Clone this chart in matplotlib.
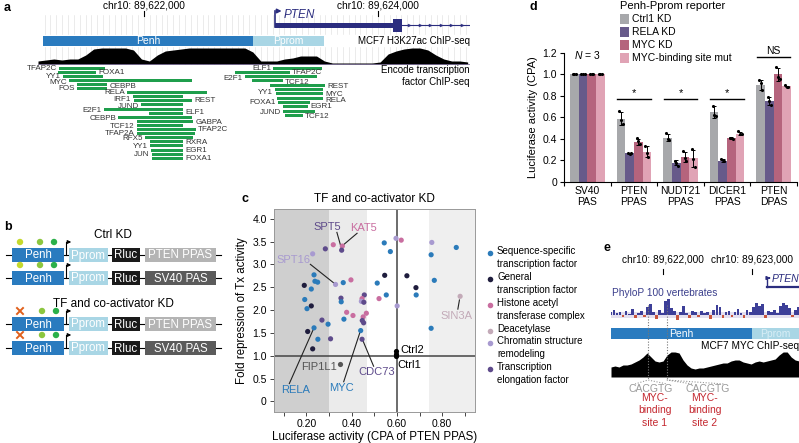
import numpy as np
import matplotlib
matplotlib.use("Agg")
import matplotlib.pyplot as plt
from matplotlib.patches import Rectangle, Circle

plt.rcParams['font.family'] = ['Liberation Sans', 'DejaVu Sans']
plt.rcParams['mathtext.fontset'] = 'custom'
plt.rcParams['mathtext.rm'] = 'Liberation Sans'
plt.rcParams['mathtext.it'] = 'Liberation Sans:italic'

# ======================= DATA =======================
# ---- panel a : genome browser view ----
CHR_TICKS_A = [89622000, 89624000]
PENH_A = (89621137, 89622932)
PPROM_A = (89622932, 89623538)
PTEN_TSS_A = 89623120
PTEN_EXON_A = (89624128, 89624205)
H3K27AC_START = 89621094
H3K27AC_BIN = 68
H3K27AC = [3, 4, 5, 4, 5, 5, 9, 15, 16, 16, 16, 16, 14, 5, 3, 9, 13, 14, 15,
           16, 16, 16, 16, 16, 16, 16, 16, 12, 3, 3, 3, 5, 6, 8, 8, 8, 3, 1,
           1, 1, 1, 1, 1, 2, 10, 13, 15, 16, 16, 14, 9, 5, 3, 3, 2]
TF_LEFT = [("TFAP2C", 89621274, 89621667, "L"), ("FOXA1", 89621265, 89621590, "R"),
           ("YY1", 89621308, 89621650, "L"), ("MYC", 89621359, 89622410, "L"),
           ("CEBPB", 89621427, 89621684, "R"), ("FOS", 89621427, 89621684, "L"),
           ("RELA", 89621855, 89622538, "L"), ("IRF1", 89621906, 89622333, "L"),
           ("REST", 89621915, 89622410, "R"), ("JUND", 89621974, 89622333, "L"),
           ("E2F1", 89621658, 89622333, "L"), ("ELF1", 89622043, 89622333, "R"),
           ("CEBPB", 89621778, 89622410, "L"), ("GABPA", 89621940, 89622419, "R"),
           ("TCF12", 89621940, 89622333, "L"), ("TFAP2C", 89621940, 89622444, "R"),
           ("TFAP2A", 89621940, 89622436, "L"), ("RFX5", 89622009, 89622419, "L"),
           ("RXRA", 89622051, 89622333, "R"), ("YY1", 89622051, 89622333, "L"),
           ("EGR1", 89622060, 89622333, "R"), ("JUN", 89622068, 89622333, "L"),
           ("FOXA1", 89622068, 89622333, "R")]
TF_RIGHT = [("ELF1", 89623103, 89623521, "L"), ("TFAP2C", 89622778, 89623248, "R"),
            ("E2F1", 89622863, 89623479, "L"), ("TCF12", 89622923, 89623188, "R"),
            ("REST", 89623077, 89623547, "R"), ("YY1", 89623120, 89623530, "L"),
            ("MYC", 89623128, 89623530, "R"), ("RELA", 89623137, 89623530, "R"),
            ("FOXA1", 89623145, 89623419, "L"), ("EGR1", 89623188, 89623402, "R"),
            ("JUND", 89623188, 89623462, "L"), ("TCF12", 89623205, 89623359, "R")]

# ---- panel b : reporter constructs ----
B_GROUPS = ["Ctrl KD", "TF and co-activator KD"]
B_PAS = ["PTEN PPAS", "SV40 PAS"]
B_PARTS = ["Penh", "Pprom", "Rluc"]

# ---- panel c : scatter ----
C_CATS = ["Sequence-specific\ntranscription factor", "General\ntranscription factor",
          "Histone acetyl\ntransferase complex", "Deacetylase",
          "Chromatin structure\nremodeling", "Transcription\nelongation factor"]
C_X = [0.596, 0.619, 0.754, 0.862, 0.544, 0.571, 0.751, 0.319, 0.359, 0.284,
       0.356, 0.228, 0.234, 0.238, 0.250, 0.191, 0.222, 0.193, 0.222, 0.203,
       0.329, 0.363, 0.397, 0.546, 0.644, 0.765, 0.513, 0.684, 0.685, 0.553,
       0.521, 0.601, 0.879, 0.353, 0.354, 0.456, 0.446, 0.443, 0.454, 0.378,
       0.406, 0.465, 0.451, 0.366, 0.447, 0.453, 0.269, 0.296, 0.234, 0.206,
       0.440, 0.251, 0.307, 0.446, 0.228, 0.751]
C_Y = [3.57, 3.53, 3.48, 3.37, 3.47, 3.28, 3.21, 3.43, 3.40, 3.34,
       3.31, 3.23, 2.77, 2.63, 2.61, 2.54, 2.46, 2.23, 2.09, 2.03,
       2.56, 2.60, 2.66, 2.76, 2.75, 2.65, 2.59, 2.49, 2.33, 2.33,
       2.25, 2.09, 2.30, 2.26, 2.18, 2.33, 2.25, 2.19, 2.17, 1.95,
       1.88, 1.93, 1.85, 1.80, 1.77, 1.72, 1.78, 1.69, 1.61, 1.53,
       1.55, 1.36, 1.37, 1.36, 1.15, 1.60]
C_CAT = [4, 2, 4, 0, 0, 0, 0, 2, 2, 5,
         5, 4, 0, 0, 0, 1, 0, 0, 1, 0,
         4, 0, 2, 1, 1, 0, 0, 1, 0, 0,
         2, 4, 3, 5, 0, 5, 2, 4, 5, 2,
         2, 2, 2, 0, 5, 5, 5, 0, 0, 1,
         0, 0, 5, 5, 1, 0]
FIP1L1 = (0.347, 0.82)
CTRL_X = [0.597, 0.597, 0.597]
CTRL_Y = [1.11, 1.04, 1.00]
C_SHADE = [(0.056, 0.30, '#cfcfcf'), (0.30, 0.47, '#ebebeb'), (0.74, 0.946, '#efefef')]

# ---- panel d : bar chart ----
D_GROUPS = ["SV40\nPAS", "PTEN\nPPAS", "NUDT21\nPPAS", "DICER1\nPPAS", "PTEN\nDPAS"]
D_CONDS = ["Ctrl1 KD", "RELA KD", "MYC KD", "MYC-binding site mut"]
D_BARS = {
    "Ctrl1 KD": [1.0, 0.585, 0.41, 0.645, 0.90],
    "RELA KD": [1.0, 0.266, 0.178, 0.196, 0.748],
    "MYC KD": [1.0, 0.37, 0.232, 0.407, 1.0],
    "MYC-binding site mut": [1.0, 0.278, 0.218, 0.447, 0.886],
}
D_REPS = {
    "Ctrl1 KD": [[1, 1, 1], [0.654, 0.571, 0.534], [0.453, 0.40, 0.385],
                 [0.707, 0.617, 0.608], [0.947, 0.917, 0.85]],
    "RELA KD": [[1, 1, 1], [0.27, 0.26, 0.265], [0.19, 0.17, 0.15],
                [0.215, 0.20, 0.19], [0.787, 0.747, 0.71]],
    "MYC KD": [[1, 1, 1], [0.407, 0.376, 0.354], [0.283, 0.225, 0.19],
               [0.41, 0.405, 0.40], [1.065, 0.97, 0.957]],
    "MYC-binding site mut": [[1, 1, 1], [0.33, 0.27, 0.23], [0.30, 0.215, 0.14],
                             [0.47, 0.445, 0.44], [0.895, 0.883, 0.88]],
}
D_SIG = [(1, "*"), (2, "*"), (3, "*"), (4, "NS")]

# ---- panel e : MYC binding sites ----
XLIM_E = (89621412, 89623525)
CHR_TICKS_E = [89622000, 89623000]
PENH_E = (89621412, 89623000)
PPROM_E = (89623000, 89623525)
PTEN_TSS_E = 89623165
PHYLOP_START = 89621412
PHYLOP_BIN = 34
PHYLOP = [3, 5, 2, 3, -2, 4, 1, 6, -3, 2, 4, -2, 8, 11, 3, -4, 5, 2, 14, 16,
          7, 4, -5, 3, 9, 2, -3, 4, 3, -2, 4, 2, 3, -4, 5, 10, 8, -3, 3, 4,
          -2, 3, 6, 2, -3, 5, 3, 8, 12, 9, 11, -3, 4, 3, 5, 2, 9, 12, 10, 7,
          -2, 5, 8]
MYC_START = 89621412
MYC_BIN = 45
MYC_CHIP = [10, 11, 10, 12, 12, 13, 15, 17, 20, 24, 20, 16, 15, 16, 22, 25, 25, 24,
            17, 12, 9, 8, 9, 9, 10, 11, 12, 13, 14, 14, 16, 17, 17, 15, 14, 13,
            15, 16, 15, 16, 17, 18, 22, 25, 25, 20, 17, 16]
MYC_SITES = [89621828, 89622042]
MOTIF_POS = [89621862, 89622502]
SITE_LABEL_POS = [89621906, 89622468]
SITE_LABELS = ["MYC-\nbinding\nsite 1", "MYC-\nbinding\nsite 2"]

# ======================= LAYOUT / STYLE =======================
# vertical placement (px) of the TF-track labels
LEFT_LABEL_Y = [68, 73, 76.5, 82, 87, 88, 93, 99.5, 101, 106, 110, 113, 118, 123,
                127, 129.5, 133.5, 139, 143, 146.5, 151, 154.5, 158]
RIGHT_LABEL_Y = [69, 73, 79, 83, 86.5, 92, 94.5, 100, 103, 107, 112, 117]

PENH_C = '#2a7bbf'
PPROM_C = '#a9d6e5'
NAVY = '#2b2d7f'
GREEN = '#1f9e4c'
CAT_COLORS = ['#2b7bba', '#1f1d3d', '#c96ea0', '#c3aab8', '#a89ad0', '#5e4b8b']
D_COLORS = ['#a7a8ab', '#675a8a', '#b5647d', '#e0a3b5']

W, H = 799, 443
fig = plt.figure(figsize=(W / 100, H / 100), dpi=100)
ov = fig.add_axes([0, 0, 1, 1])
ov.set_xlim(0, W)
ov.set_ylim(H, 0)
ov.axis('off')


def px_axes(x0, y0, x1, y1):
    a = fig.add_axes([x0 / W, 1 - y1 / H, (x1 - x0) / W, (y1 - y0) / H])
    a.set_facecolor('none')
    return a


for lab, (x, y) in zip("abcde", [(4, 8), (4, 227), (241, 199), (529, 7), (603, 248)]):
    ov.text(x, y, lab, fontsize=9, fontweight='bold', ha='left', va='center')

# ======================= PANEL A =======================
axa = px_axes(38, 0, 470, 160)
XLIM_A = (89621094, 89624786)
axa.set_xlim(*XLIM_A)
axa.set_ylim(160, 0)
axa.axis('off')
for g in np.arange(89621150, 89624780, 50):
    axa.plot([g, g], [15, 34], color='#dcdcdc', lw=0.4, zorder=0)
    axa.plot([g, g], [47, 64], color='#dcdcdc', lw=0.4, zorder=0)
for g in CHR_TICKS_A:
    axa.text(g, 6, f"chr10: {g:,}", ha='center', va='center', fontsize=7.3)
    axa.plot([g, g], [11, 16], color='k', lw=0.8)
axa.add_patch(Rectangle((PENH_A[0], 36), PENH_A[1] - PENH_A[0], 10, color=PENH_C, lw=0))
axa.add_patch(Rectangle((PPROM_A[0], 36), PPROM_A[1] - PPROM_A[0], 10, color=PPROM_C, lw=0))
axa.text(np.mean(PENH_A), 41.5, "Penh", color='white', ha='center', va='center', fontsize=7.5)
axa.text(np.mean(PPROM_A), 41.5, "Pprom", color='white', ha='center', va='center', fontsize=7.5)
axa.text(XLIM_A[1], 41.5, "MCF7 H3K27ac ChIP-seq", ha='right', va='center', fontsize=7)
# PTEN gene
axa.plot([PTEN_TSS_A, PTEN_TSS_A], [27, 11], color=NAVY, lw=1.2)
axa.annotate('', xy=(PTEN_TSS_A + 80, 11), xytext=(PTEN_TSS_A - 5, 11),
             arrowprops=dict(arrowstyle='-|>', color=NAVY, lw=1.2, mutation_scale=6))
axa.text(PTEN_TSS_A + 70, 15, "PTEN", style='italic', color=NAVY, fontsize=8.5,
         ha='left', va='center')
axa.add_patch(Rectangle((PTEN_TSS_A, 22.5), PTEN_EXON_A[0] - PTEN_TSS_A, 5, color=NAVY, lw=0))
axa.add_patch(Rectangle((PTEN_EXON_A[0], 19), PTEN_EXON_A[1] - PTEN_EXON_A[0], 13,
                        color=NAVY, lw=0))
axa.plot([PTEN_EXON_A[1], XLIM_A[1]], [25, 25], color=NAVY, lw=0.8)
chev = np.arange(PTEN_EXON_A[1] + 60, XLIM_A[1], 90)
axa.plot(chev, [25] * len(chev), ls='none', marker='>', ms=2, color=NAVY, mfc='none', mew=0.5)
# H3K27ac
xs = H3K27AC_START + H3K27AC_BIN * np.arange(len(H3K27AC))
axa.fill_between(xs, 64, 64 - np.array(H3K27AC), color='k', lw=0)
axa.plot(XLIM_A, [64.3, 64.3], color='#6a5a8a', lw=0.5)
axa.text(XLIM_A[1], 70, "Encode transcription", ha='right', va='center', fontsize=7)
axa.text(XLIM_A[1], 82, "factor ChIP-seq", ha='right', va='center', fontsize=7)
# TF ChIP bars
pad = 18
for rows, step, laby in ((TF_LEFT, 4.1, LEFT_LABEL_Y), (TF_RIGHT, 4.3, RIGHT_LABEL_Y)):
    for i, (name, s, e, side) in enumerate(rows):
        y = 68 + step * i
        axa.add_patch(Rectangle((s, y - 1.5), e - s, 3, color=GREEN, lw=0))
        if side == "L":
            axa.text(s - pad, laby[i], name, ha='right', va='center', fontsize=5.8, color='#333333')
        else:
            axa.text(e + pad, laby[i], name, ha='left', va='center', fontsize=5.8, color='#333333')

# ======================= PANEL B =======================
PAS_C = {"PTEN PPAS": '#b4b4b4', "SV40 PAS": '#5b5b5b'}
PART_BOX = {"Penh": (12, 52, PENH_C), "Pprom": (69, 39, PPROM_C), "Rluc": (112, 28, '#1a1a1a')}
DOTS = ['#c5d92d', '#8cc63f', '#2bb04a']


def construct(y, pas, knocked):
    ov.plot([6, 221], [y, y], color='k', lw=0.8, zorder=1)
    for part in B_PARTS:
        x0, w, c = PART_BOX[part]
        ov.add_patch(Rectangle((x0, y - 7), w, 14, color=c, lw=0, zorder=2))
        ov.text(x0 + w / 2, y + 0.5, part, color='white', ha='center', va='center',
                fontsize=8.3, zorder=3)
    ov.add_patch(Rectangle((145, y - 7), 71, 14, color=PAS_C[pas], lw=0, zorder=2))
    ov.text(180.5, y + 0.5, pas, color='white', ha='center', va='center', fontsize=8.3, zorder=3)
    ov.plot([66, 66], [y, y - 13], color='k', lw=0.8, zorder=3)
    ov.annotate('', xy=(74, y - 13), xytext=(65.6, y - 13),
                arrowprops=dict(arrowstyle='-|>', color='k', lw=0.8, mutation_scale=5))
    if not knocked:
        for cx, c in zip([20, 40, 54], DOTS):
            ov.add_patch(Circle((cx, y - 13), 3.2, color=c, lw=0, zorder=3))
    else:
        ov.plot([17, 23], [y - 16, y - 10], color='#e0601b', lw=1.4, zorder=4)
        ov.plot([17, 23], [y - 10, y - 16], color='#e0601b', lw=1.4, zorder=4)
        for cx, c in zip([42, 56], DOTS[1:]):
            ov.add_patch(Circle((cx, y - 13), 3.2, color=c, lw=0, zorder=3))


for gi, (title, ys) in enumerate(zip(B_GROUPS, [(255, 278), (324, 348)])):
    ov.text(113, ys[0] - 20, title, ha='center', va='center', fontsize=8.5)
    for pas, y in zip(B_PAS, ys):
        construct(y, pas, gi == 1)

# ======================= PANEL C =======================
axc = px_axes(273.7, 209, 475.3, 411.7)
axc.set_xlim(0.056, 0.946)
axc.set_ylim(-0.226, 4.212)
for x0, x1, c in C_SHADE:
    axc.axvspan(x0, x1, color=c, lw=0, zorder=0)
axc.axvline(0.6, color='#444444', lw=1.1, zorder=1)
axc.axhline(1.0, color='#444444', lw=1.1, zorder=1)
cols = [CAT_COLORS[k] for k in C_CAT]
axc.scatter(C_X, C_Y, s=14, c=cols, lw=0, zorder=3)
axc.scatter([FIP1L1[0]], [FIP1L1[1]], s=14, c='#555555', lw=0, zorder=3)
axc.scatter(CTRL_X, CTRL_Y, s=14, c='k', lw=0, zorder=3)
ANNOT = [("SPT5", 5, (0.291, 3.81), (0.335, 3.70, 0.356, 3.33)),
         ("KAT5", 2, (0.453, 3.79), (0.424, 3.68, 0.362, 3.42)),
         ("SPT16", 4, (0.144, 3.09), (0.218, 3.00, 0.327, 2.57)),
         ("SIN3A", 3, (0.865, 1.88), (0.869, 2.02, 0.876, 2.22)),
         ("RELA", 0, (0.151, 0.25), (0.125, 0.39, 0.232, 1.59)),
         ("MYC", 0, (0.357, 0.30), (0.365, 0.43, 0.438, 1.53)),
         ("CDC73", 5, (0.512, 0.65), (0.497, 0.77, 0.449, 1.34))]
for name, k, (tx, ty), (x0, y0, x1, y1) in ANNOT:
    axc.text(tx, ty, name, color=CAT_COLORS[k], ha='center', va='center', fontsize=8)
    axc.plot([x0, x1], [y0, y1], color='#222222', lw=0.8, zorder=2)
axc.text(0.335, 0.745, "FIP1L1", color='#555555', ha='right', va='center', fontsize=8)
axc.text(0.615, 1.13, "Ctrl2", color='k', ha='left', va='center', fontsize=8)
axc.text(0.603, 0.80, "Ctrl1", color='k', ha='left', va='center', fontsize=8)
axc.set_xticks([0.1, 0.2, 0.3, 0.4, 0.5, 0.6, 0.7, 0.8, 0.9])
axc.set_xticklabels(["", "0.20", "", "0.40", "", "0.60", "", "0.80", ""])
axc.set_yticks([0, 0.5, 1.0, 1.5, 2.0, 2.5, 3.0, 3.5, 4.0])
axc.set_yticklabels(["0", "0.5", "1.0", "1.5", "2.0", "2.5", "3.0", "3.5", "4.0"])
axc.tick_params(labelsize=7.5, length=3, width=0.7, color='#444444', pad=2)
for sp in axc.spines.values():
    sp.set_color('#999999')
    sp.set_linewidth(0.7)
axc.set_xlabel("Luciferase activity (CPA of PTEN PPAS)", fontsize=8.3, labelpad=2)
axc.set_ylabel("Fold repression of Tx activity", fontsize=8.3, labelpad=3)
axc.set_title("TF and co-activator KD", fontsize=8.5, pad=5)
# legend for c (manual)
leg_y = [253, 279, 305, 331, 343, 369]
for k, (lab, y) in enumerate(zip(C_CATS, leg_y)):
    ov.scatter([490], [y], s=16, color=CAT_COLORS[k], lw=0)
    ov.text(497, y - 6.5, lab, ha='left', va='top', fontsize=7, linespacing=1.35)

# ======================= PANEL D =======================
axd = px_axes(564, 52.7, 797, 181.7)
axd.set_xlim(-0.5, 4.5)
axd.set_ylim(0, 1.2)
bw = 0.185
xg = np.arange(len(D_GROUPS))
jit = [-0.035, 0.0, 0.035]
for j, cond in enumerate(D_CONDS):
    xb = xg + (j - 1.5) * bw
    axd.bar(xb, D_BARS[cond], width=bw, color=D_COLORS[j], lw=0, zorder=1)
    reps = np.array(D_REPS[cond])
    sd = reps.std(axis=1, ddof=1)
    axd.errorbar(xb, D_BARS[cond], yerr=sd, fmt='none', ecolor='k', elinewidth=0.7,
                 capsize=1.5, capthick=0.7, zorder=2)
    for i in range(len(D_GROUPS)):
        axd.scatter(xb[i] + np.array(jit), reps[i], s=5, color='k', lw=0, zorder=3)
for gi, mark in D_SIG:
    yl = 0.77 if mark == "*" else 1.16
    axd.plot([gi - 0.36, gi + 0.36], [yl, yl], color='k', lw=1.0, clip_on=False)
    axd.text(gi, yl + 0.01, mark, ha='center', va='bottom', fontsize=8 if mark == "*" else 7.5,
             clip_on=False)
axd.text(0, 1.175, r"$\it{N}$ = 3", ha='center', va='center', fontsize=7.5)
axd.spines['top'].set_visible(False)
axd.spines['right'].set_visible(False)
axd.set_yticks([0, 0.2, 0.4, 0.6, 0.8, 1.0, 1.2])
axd.set_yticklabels(["0", "0.2", "0.4", "0.6", "0.8", "1.0", "1.2"])
axd.set_xticks(xg)
axd.set_xticklabels(D_GROUPS)
axd.set_xticks(np.arange(-0.5, 4.6, 1.0), minor=True)
axd.tick_params(axis='x', which='major', length=0, pad=3)
axd.tick_params(axis='x', which='minor', length=3, width=0.8)
axd.tick_params(axis='y', length=3, width=0.8, pad=2)
axd.tick_params(labelsize=7.5)
axd.set_ylabel("Luciferase activity (CPA)", fontsize=8, labelpad=3)
# legend for d (manual)
ov.text(620, 6, "Penh-Pprom reporter", ha='left', va='center', fontsize=8)
for j, cond in enumerate(D_CONDS):
    y = 19 + 13 * j
    ov.add_patch(Rectangle((620, y - 5), 8.5, 10, color=D_COLORS[j], lw=0))
    ov.text(632, y, cond, ha='left', va='center', fontsize=7.5)

# ======================= PANEL E =======================
axe = px_axes(611, 240, 799, 443)
axe.set_xlim(*XLIM_E)
axe.set_ylim(443, 240)
axe.axis('off')
for g in CHR_TICKS_E:
    axe.text(g, 260, f"chr10: {g:,}", ha='center', va='center', fontsize=7.3)
    axe.plot([g, g], [269, 274], color='k', lw=0.8)
axe.plot([PTEN_TSS_E, PTEN_TSS_E], [287, 278], color=NAVY, lw=1.0)
axe.annotate('', xy=(PTEN_TSS_E + 70, 278), xytext=(PTEN_TSS_E - 5, 278),
             arrowprops=dict(arrowstyle='-|>', color=NAVY, lw=1.0, mutation_scale=5))
axe.plot([PTEN_TSS_E, XLIM_E[1]], [287, 287], color=NAVY, lw=1.6)
axe.text(PTEN_TSS_E + 50, 278.5, "PTEN", style='italic', color=NAVY, fontsize=7.5,
         ha='left', va='center')
axe.text(XLIM_E[0] + 10, 293, "PhyloP 100 vertebrates", color='#3b3f8c', fontsize=7.3,
         ha='left', va='center')
px_ = PHYLOP_START + PHYLOP_BIN * np.arange(len(PHYLOP))
ph = np.array(PHYLOP)
axe.add_patch(Rectangle((XLIM_E[0], 312), XLIM_E[1] - XLIM_E[0], 6, color='#e4e0ef', lw=0))
axe.bar(px_, -ph, bottom=315, width=PHYLOP_BIN * 0.9,
        color=np.where(ph > 0, '#3d3f98', '#c8553d'), lw=0)
axe.add_patch(Rectangle((PENH_E[0], 328), PENH_E[1] - PENH_E[0], 11, color=PENH_C, lw=0))
axe.add_patch(Rectangle((PPROM_E[0], 328), PPROM_E[1] - PPROM_E[0], 11, color=PPROM_C, lw=0))
axe.text(np.mean(PENH_E), 334, "Penh", color='white', ha='center', va='center', fontsize=7.5)
axe.text(np.mean(PPROM_E), 334, "Pprom", color='#d8eef6', ha='center', va='center', fontsize=7.5)
axe.text(XLIM_E[1], 346, "MCF7 MYC ChIP-seq", ha='right', va='center', fontsize=7.3)
mx = MYC_START + MYC_BIN * np.arange(len(MYC_CHIP))
axe.fill_between(mx, 377, 377 - np.array(MYC_CHIP), color='k', lw=0)
for s, mp, lp, lab in zip(MYC_SITES, MOTIF_POS, SITE_LABEL_POS, SITE_LABELS):
    axe.plot([s, s], [305, 379], color='#777777', lw=0.8, ls=(0, (1, 1.5)))
    axe.plot([mp - 180, s, mp + 180], [384, 380, 384], color='#999999', lw=0.8, ls=(0, (1, 1.5)))
    axe.text(mp, 389, "CACGTG", color='#9a9a9a', ha='center', va='center', fontsize=7.5)
    axe.text(lp, 393, lab, color='#c4262e', ha='center', va='top', fontsize=7.5,
             linespacing=1.3)

fig.savefig("out.png", dpi=100)
